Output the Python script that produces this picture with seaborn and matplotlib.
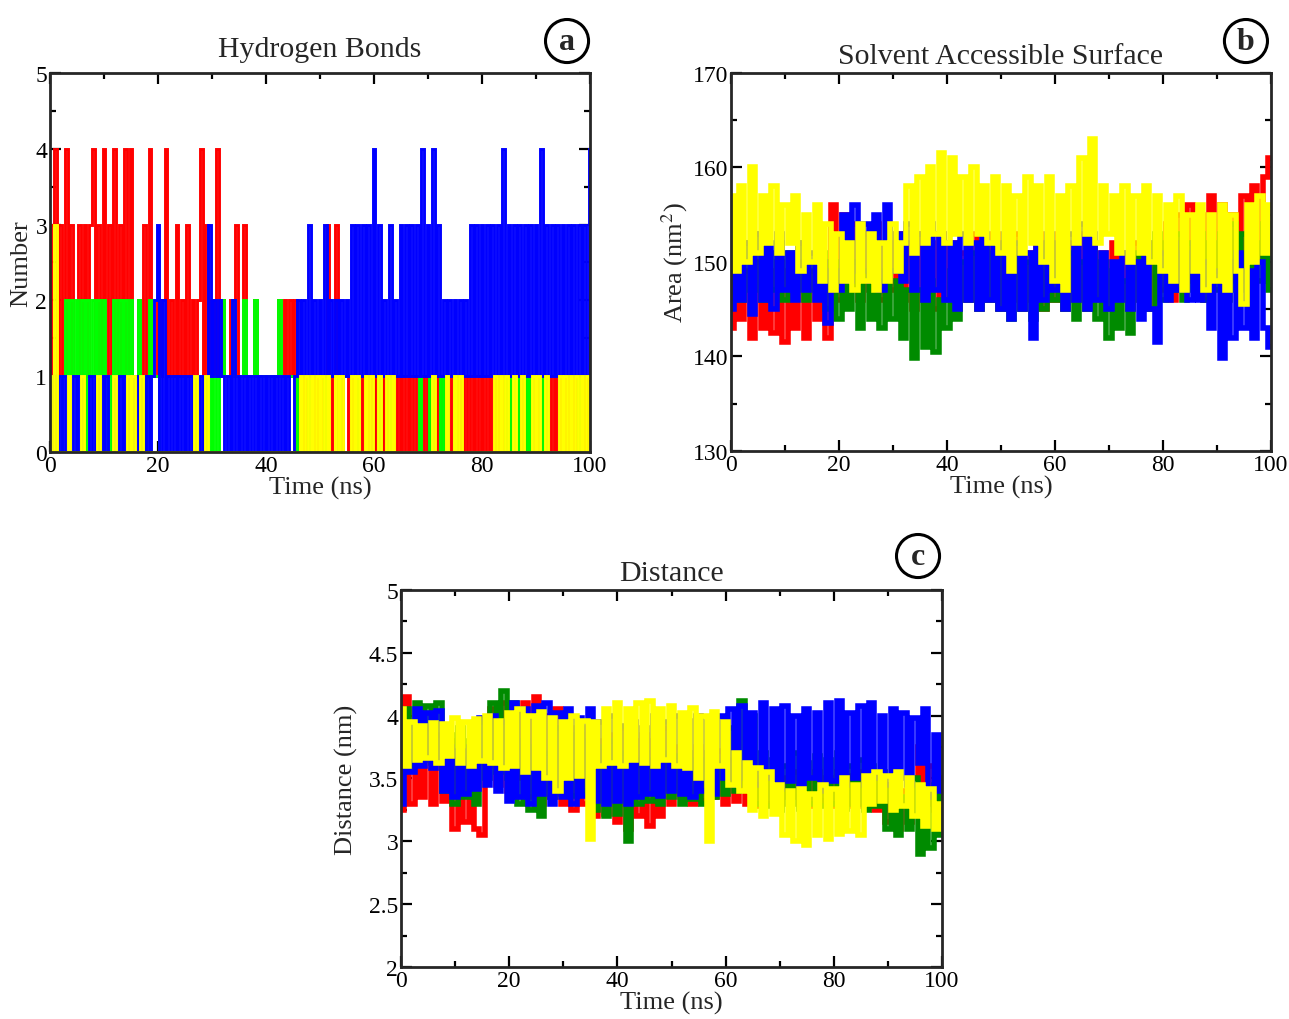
import matplotlib
matplotlib.use("Agg")
import matplotlib.pyplot as plt
import numpy as np
import seaborn as sns
from matplotlib.ticker import MultipleLocator, FormatStrFormatter

# ---------------- (a) Hydrogen bonds: one digit per 0.5 ns frame ----------------
HB_TIME = np.linspace(0, 100, 201)
HB_RED = [int(c) for c in (
    "1341314131" "1313134131" "4131413141" "4112131411" "2124121312"
    "1312124131" "2141211213" "1131112111" "1111121212" "1201010101"
    "0103013010" "0101010101" "0101010101" "0101010101" "0101010101"
    "0101010101" "0101010101" "0101010101" "0101010101" "0101010101" "0")]
HB_GREEN = [int(c) for c in (
    "0000012121" "2120212121" "2101212120" "2112101211" "1000000000"
    "0000000101" "0101211121" "1121112111" "1111121111" "1100001000"
    "0010000100" "0000100000" "0010001000" "0000000100" "0100010000"
    "1000000000" "0000000001" "0101001010" "0010100000" "0000001000" "0")]
HB_BLUE = [int(c) for c in (
    "0101010101" "0100010101" "0100101010" "1010101012" "3020101010"
    "1010101013" "1212101020" "1010101010" "1010101010" "0121213121"
    "2131212121" "2131313131" "4131213121" "3131313141" "3141312121"
    "2121213131" "3131313141" "3131313131" "3141313131" "3131313131" "4")]
HB_YELLOW = [int(c) for c in (
    "1030000100" "0010000010" "0000100001" "0100100000" "0000000000"
    "0000100010" "0000000000" "0000000000" "0000000000" "0001010101"
    "0101001010" "0010100101" "0010010100" "0000000000" "0010000100"
    "1010000000" "0000010101" "0010010001" "0100100001" "0101010101" "0")]

# ---------------- (b) SASA and (c) distance: one value per ns ----------------
TIME = np.linspace(0, 100, 101)

SAS_RED = [143, 150, 144, 149, 142, 150, 143, 149, 142.5, 150, 141.5, 149, 143, 150, 142, 149, 144, 150, 142, 156,
           146, 155, 147, 154, 146, 153, 147, 154, 146, 152, 147, 153, 146, 152, 145, 153, 146, 152, 145, 153,
           146, 152, 145, 151, 146, 153, 145, 152, 146, 153, 145, 152, 146, 153, 145, 151, 146, 153, 145, 152,
           146, 153, 145, 152, 146, 153, 145, 152, 146, 151, 145, 152, 146, 151, 145, 152, 146, 150, 145, 152,
           147, 154, 146, 155, 147, 156, 148, 155, 146, 157, 148, 156, 147, 155, 148, 157, 149, 158, 150, 159, 161]
SAS_GREEN = [148, 153, 146, 152, 147, 153, 146, 151, 147, 152, 146, 151, 147, 152, 146, 150, 147, 151, 145, 150,
             144, 149, 145, 150, 143, 149, 144, 148, 143, 149, 144, 148, 142, 147, 139.8, 147, 141, 148, 140.5, 146,
             143, 149, 144, 150, 146, 151, 145, 152, 146, 151, 145, 152, 144, 151, 145, 150, 144, 151, 145, 152,
             146, 150, 145, 151, 144, 150, 145, 152, 144, 150, 142, 149, 143, 148, 142.5, 151, 146, 152, 145, 153,
             146, 152, 147, 153, 146, 152, 147, 153, 146, 152, 147, 153, 146, 154, 147, 153, 146, 152, 148, 154, 147]
SAS_BLUE = [145, 151, 146, 152, 144.5, 153, 146, 152, 145, 153, 147, 151, 146, 152, 147, 151, 146, 150, 143.5, 149,
            147, 155, 148, 156, 149, 154, 148, 155, 147, 156, 149, 153, 148, 154, 147, 153, 146, 154, 147, 153,
            146, 152, 145, 153, 146, 152, 145, 153, 146, 152, 145, 153, 144, 152, 145, 151, 142, 152, 146, 153,
            147, 152, 145, 153, 146, 154, 145, 153, 146, 151, 145, 150, 146, 151, 145, 150, 144, 152, 145, 141.5,
            151, 146, 152, 147, 151, 146, 152, 146, 150, 143, 149, 139.8, 150, 142, 151, 143, 149, 142, 150, 143, 141]
SAS_YELLOW = [157, 149, 158, 150, 160, 151, 157, 152, 158, 151, 156, 152, 157, 149, 155, 150, 156, 148, 154, 147,
              153, 148, 152, 147, 154, 148, 153, 147, 152, 148, 154, 149, 152, 158, 151, 159, 152, 160, 153, 161.5,
              152, 161, 153, 159, 152, 160, 153, 158, 152, 159, 151, 158, 149, 157, 151, 159, 152, 158, 150, 159,
              148, 157, 147, 158, 152, 161, 153, 163, 152, 158, 153, 157, 151, 158, 150, 157, 151, 158, 150, 157,
              149, 156, 148, 157, 147, 155, 149, 156, 147, 155, 148, 156, 147, 155, 149, 145.5, 156, 150, 157, 151, 156]

DIST_RED = [3.25, 4.15, 3.3, 3.85, 3.35, 3.9, 3.3, 3.85, 3.32, 3.8, 3.1, 3.65, 3.15, 3.7, 3.1, 3.05, 3.6, 4.05, 3.45, 4.1,
            3.4, 4.08, 3.5, 4.1, 3.35, 4.15, 3.3, 4.0, 3.35, 4.05, 3.3, 3.9, 3.25, 3.85, 3.3, 3.9, 3.2, 3.8, 3.22, 3.85,
            3.15, 3.9, 3.1, 3.8, 3.2, 3.85, 3.12, 3.8, 3.2, 3.9, 3.3, 3.75, 3.35, 3.7, 3.3, 3.75, 3.32, 3.7, 3.35, 3.72,
            3.3, 3.65, 3.32, 3.6, 3.3, 3.55, 3.28, 3.5, 3.3, 3.55, 3.3, 3.5, 3.35, 3.55, 3.3, 3.5, 3.28, 3.55, 3.32, 3.5,
            3.28, 3.55, 3.3, 3.52, 3.28, 3.55, 3.3, 3.5, 3.25, 3.48, 3.15, 3.45, 3.1, 3.4, 3.15, 3.5, 3.75, 3.3, 3.6, 3.25, 3.5]
DIST_GREEN = [3.7, 4.05, 3.6, 4.1, 3.65, 4.08, 3.62, 4.1, 3.4, 3.85, 3.3, 3.9, 3.35, 3.8, 3.3, 3.95, 3.5, 4.1, 3.55, 4.2,
              3.5, 4.1, 3.3, 3.8, 3.25, 3.75, 3.2, 3.7, 3.35, 3.9, 3.38, 3.85, 3.36, 3.9, 3.4, 3.8, 3.25, 3.75, 3.2, 3.8,
              3.22, 3.7, 3.0, 3.65, 3.3, 3.7, 3.32, 3.65, 3.3, 3.7, 3.35, 3.68, 3.3, 3.7, 3.34, 3.65, 3.3, 3.7, 3.35, 3.62,
              3.38, 3.9, 3.4, 4.12, 3.45, 4.0, 3.3, 3.7, 3.28, 3.65, 3.25, 3.6, 3.3, 3.7, 3.26, 3.62, 3.3, 3.68, 3.28, 3.65,
              3.3, 3.7, 3.26, 3.6, 3.3, 3.65, 3.25, 3.6, 3.28, 3.55, 3.1, 3.45, 3.05, 3.35, 3.1, 3.5, 2.9, 3.4, 2.95, 3.45, 3.05]
DIST_BLUE = [3.3, 3.9, 3.55, 4.05, 3.6, 4.02, 3.58, 4.04, 3.4, 3.75, 3.35, 3.72, 3.38, 3.75, 3.42, 3.98, 3.45, 4.0, 3.4, 3.95,
             3.32, 4.1, 3.35, 4.05, 3.3, 4.08, 3.38, 4.1, 3.3, 4.02, 3.35, 4.05, 3.3, 3.98, 3.36, 4.05, 3.32, 3.95, 3.3, 4.0,
             3.32, 3.92, 3.3, 3.95, 3.35, 3.9, 3.38, 4.0, 3.36, 3.95, 3.4, 4.0, 3.38, 3.96, 3.35, 4.0, 3.4, 3.95, 3.38, 4.0,
             3.5, 4.05, 3.45, 4.08, 3.5, 4.02, 3.45, 4.1, 3.5, 4.05, 3.42, 4.08, 3.48, 4.0, 3.45, 4.05, 3.5, 4.02, 3.4, 4.1,
             3.48, 4.12, 3.45, 4.02, 3.5, 4.08, 3.45, 4.1, 3.5, 4.0, 3.45, 4.05, 3.5, 4.02, 3.45, 3.98, 3.62, 4.05, 3.35, 3.85, 3.4]
DIST_YELLOW = [4.05, 3.6, 3.95, 3.65, 3.92, 3.66, 3.94, 3.62, 3.93, 3.68, 3.98, 3.62, 3.95, 3.6, 3.97, 3.64, 4.0, 3.62, 3.96, 3.58,
               4.02, 3.6, 4.05, 3.55, 4.0, 3.58, 4.03, 3.5, 3.98, 3.4, 3.95, 3.5, 4.0, 3.52, 3.96, 3.02, 3.95, 3.6, 4.05, 3.62,
               4.1, 3.6, 4.05, 3.65, 4.1, 3.62, 4.12, 3.6, 4.05, 3.65, 4.08, 3.6, 4.02, 3.58, 4.06, 3.5, 4.0, 3.0, 4.03, 3.6,
               3.95, 3.45, 3.7, 3.4, 3.62, 3.25, 3.58, 3.2, 3.55, 3.22, 3.45, 3.05, 3.4, 3.0, 3.42, 2.97, 3.38, 3.05, 3.45, 3.02,
               3.42, 3.06, 3.5, 3.08, 3.45, 3.05, 3.52, 3.3, 3.55, 3.32, 3.52, 3.25, 3.55, 3.28, 3.5, 3.2, 3.45, 3.12, 3.42, 3.1, 3.3]

HB_COLORS = ["#ff0000", "#00ff00", "#0000ff", "#ffff00"]
MD_COLORS = ["#ff0000", "#008b00", "#0000ff", "#ffff00"]

sns.set_style("ticks")
plt.rcParams["font.family"] = ["Liberation Serif", "DejaVu Serif"]
plt.rcParams["mathtext.fontset"] = "stix"


def style_axes(ax, title, ylabel, ymajor, yminor, ylim, title_pad, ylabel_pad=2):
    ax.set_xlim(0, 100)
    ax.set_ylim(*ylim)
    ax.xaxis.set_major_locator(MultipleLocator(20))
    ax.xaxis.set_minor_locator(MultipleLocator(10))
    ax.yaxis.set_major_locator(MultipleLocator(ymajor))
    ax.yaxis.set_minor_locator(MultipleLocator(yminor))
    ax.yaxis.set_major_formatter(FormatStrFormatter("%g"))
    ax.tick_params(which="both", direction="in", top=True, right=True, width=1.6,
                   labelsize=17, pad=2, colors="black")
    ax.tick_params(which="major", length=8)
    ax.tick_params(which="minor", length=4.5)
    for sp in ax.spines.values():
        sp.set_visible(True)
        sp.set_linewidth(2)
        sp.set_zorder(10)
    ax.set_title(title, fontsize=21.5, pad=title_pad)
    ax.set_xlabel("Time (ns)", fontsize=19, labelpad=0)
    ax.set_ylabel(ylabel, fontsize=19, labelpad=ylabel_pad)


def draw_series(ax, t, series, colors, width):
    # jumps between frames drawn as vertical strokes, like the dense MD traces
    for vals, col in zip(series, colors):
        sns.lineplot(x=t, y=vals, color=col, linewidth=width, ax=ax,
                     estimator=None, sort=False, legend=False,
                     drawstyle="steps-mid", solid_joinstyle="miter")


fig = plt.figure(figsize=(12.89, 10.20), dpi=100)
ax_a = fig.add_axes([0.0388, 0.5559, 0.4189, 0.3716])
ax_b = fig.add_axes([0.5671, 0.5569, 0.4189, 0.3706])
ax_c = fig.add_axes([0.3111, 0.0510, 0.4197, 0.3696])

draw_series(ax_a, HB_TIME, [HB_RED, HB_GREEN, HB_BLUE, HB_YELLOW], HB_COLORS, 2.1)
style_axes(ax_a, "Hydrogen Bonds", "Number", 1, 0.5, (0, 5), 12)

draw_series(ax_b, TIME, [SAS_RED, SAS_GREEN, SAS_BLUE, SAS_YELLOW], MD_COLORS, 4.0)
style_axes(ax_b, "Solvent Accessible Surface", "Area (nm$^2$)", 10, 5, (130, 170), 7)

draw_series(ax_c, TIME, [DIST_RED, DIST_GREEN, DIST_BLUE, DIST_YELLOW], MD_COLORS, 4.0)
style_axes(ax_c, "Distance", "Distance (nm)", 0.5, 0.25, (2, 5), 7, ylabel_pad=8)

circle = dict(boxstyle="circle,pad=0.22", fc="white", ec="black", lw=2.2)
for x, y, letter in [(0.4399, 0.9588, "a"), (0.9666, 0.9588, "b"), (0.7122, 0.4539, "c")]:
    fig.text(x, y, letter, ha="center", va="center", fontsize=23,
             fontweight="bold", bbox=circle)

fig.savefig("out.png", dpi=100)
